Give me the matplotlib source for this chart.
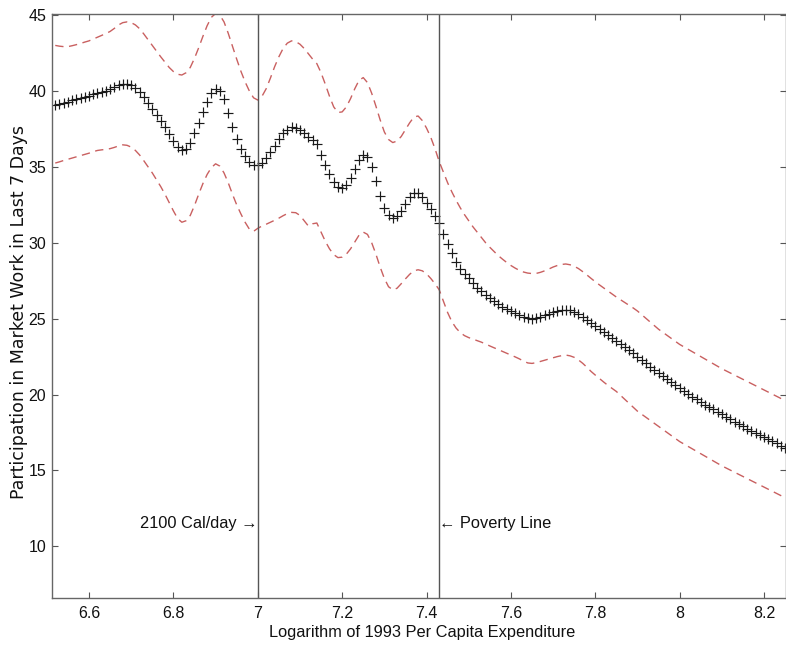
import numpy as np
import matplotlib
matplotlib.use("Agg")
import matplotlib.pyplot as plt

plt.rcParams['font.family'] = ['Liberation Sans', 'DejaVu Sans']

# x grid (log per-capita expenditure)
x_start, x_step, n_pts = 6.52, 0.01, 174
x_vals = np.round(x_start + x_step * np.arange(n_pts), 2)

# estimated participation (+ markers)
mid_vals = [
    39.10, 39.15, 39.22, 39.30, 39.38, 39.45, 39.53, 39.62, 39.70, 39.78,
    39.86, 39.94, 40.02, 40.12, 40.25, 40.40, 40.48, 40.48, 40.38, 40.20,
    39.95, 39.60, 39.20, 38.80, 38.40, 38.00, 37.60, 37.15, 36.70, 36.30,
    36.10, 36.20, 36.60, 37.20, 37.90, 38.60, 39.30, 39.85, 40.10, 40.00,
    39.45, 38.55, 37.60, 36.85, 36.20, 35.70, 35.30, 35.12, 35.10, 35.25,
    35.55, 35.95, 36.40, 36.85, 37.20, 37.45, 37.60, 37.58, 37.45, 37.20,
    36.95, 36.75, 36.50, 35.80, 35.10, 34.50, 34.00, 33.70, 33.60, 33.80,
    34.25, 34.85, 35.45, 35.80, 35.65, 35.00, 34.05, 33.10, 32.30, 31.80,
    31.60, 31.75, 32.10, 32.55, 33.00, 33.28, 33.25, 33.00, 32.65, 32.20,
    31.75, 31.30, 30.60, 29.90, 29.30, 28.75, 28.30, 27.95, 27.65, 27.35,
    27.05, 26.80, 26.55, 26.35, 26.15, 25.95, 25.78, 25.62, 25.50, 25.38,
    25.25, 25.12, 25.04, 25.00, 25.04, 25.12, 25.22, 25.33, 25.42, 25.50,
    25.56, 25.58, 25.55, 25.45, 25.30, 25.12, 24.92, 24.72, 24.52, 24.32,
    24.12, 23.92, 23.72, 23.52, 23.32, 23.12, 22.92, 22.72, 22.50, 22.28,
    22.06, 21.84, 21.62, 21.40, 21.20, 21.00, 20.80, 20.60, 20.40, 20.22,
    20.04, 19.86, 19.68, 19.50, 19.34, 19.18, 19.02, 18.86, 18.70, 18.54,
    18.38, 18.22, 18.06, 17.90, 17.76, 17.62, 17.48, 17.34, 17.20, 17.06,
    16.92, 16.78, 16.64, 16.50,
]

# upper confidence band
upper_vals = [
    43.00, 42.95, 42.92, 42.92, 42.98, 43.05, 43.13, 43.22, 43.30, 43.42,
    43.54, 43.66, 43.78, 43.92, 44.12, 44.35, 44.50, 44.55, 44.50, 44.35,
    44.10, 43.75, 43.38, 43.00, 42.62, 42.25, 41.90, 41.55, 41.28, 41.10,
    41.05, 41.20, 41.55, 42.15, 42.85, 43.60, 44.30, 44.85, 45.10, 45.00,
    44.55, 43.80, 42.95, 42.10, 41.30, 40.60, 40.00, 39.55, 39.40, 39.65,
    40.15, 40.85, 41.60, 42.25, 42.80, 43.15, 43.30, 43.25, 43.08, 42.80,
    42.45, 42.10, 41.80, 41.20, 40.45, 39.65, 38.95, 38.58, 38.62, 38.95,
    39.50, 40.15, 40.70, 40.88, 40.55, 39.85, 39.00, 38.10, 37.30, 36.80,
    36.60, 36.70, 37.00, 37.45, 37.90, 38.28, 38.35, 38.05, 37.55, 36.95,
    36.20, 35.35, 34.65, 33.95, 33.35, 32.80, 32.30, 31.85, 31.45, 31.05,
    30.70, 30.35, 30.00, 29.70, 29.42, 29.15, 28.92, 28.70, 28.50, 28.33,
    28.18, 28.07, 28.00, 27.97, 27.98, 28.05, 28.15, 28.27, 28.40, 28.50,
    28.57, 28.60, 28.55, 28.45, 28.30, 28.10, 27.88, 27.65, 27.43, 27.22,
    27.02, 26.82, 26.62, 26.42, 26.24, 26.06, 25.88, 25.70, 25.50, 25.26,
    25.02, 24.78, 24.54, 24.30, 24.10, 23.90, 23.70, 23.50, 23.30, 23.14,
    22.98, 22.82, 22.66, 22.50, 22.34, 22.18, 22.02, 21.86, 21.70, 21.56,
    21.42, 21.28, 21.14, 21.00, 20.86, 20.72, 20.58, 20.44, 20.30, 20.16,
    20.02, 19.88, 19.74, 19.60,
]

# lower confidence band
lower_vals = [
    35.25, 35.33, 35.42, 35.50, 35.58, 35.66, 35.74, 35.82, 35.90, 36.00,
    36.08, 36.12, 36.15, 36.20, 36.28, 36.38, 36.45, 36.42, 36.30, 36.08,
    35.78, 35.40, 35.00, 34.60, 34.15, 33.70, 33.20, 32.65, 32.10, 31.60,
    31.35, 31.45, 31.80, 32.45, 33.20, 33.90, 34.50, 34.95, 35.20, 35.05,
    34.60, 33.95, 33.20, 32.50, 31.90, 31.35, 30.90, 30.75, 30.95, 31.10,
    31.22, 31.35, 31.48, 31.62, 31.78, 31.92, 32.00, 31.98, 31.80, 31.45,
    31.10, 31.25, 31.30, 30.70, 30.10, 29.60, 29.22, 29.02, 29.05, 29.25,
    29.60, 30.05, 30.50, 30.70, 30.55, 30.00, 29.25, 28.40, 27.65, 27.10,
    26.90, 27.00, 27.30, 27.62, 27.92, 28.15, 28.22, 28.15, 27.95, 27.65,
    27.30, 26.90, 26.15, 25.40, 24.80, 24.38, 24.08, 23.88, 23.75, 23.65,
    23.55, 23.45, 23.33, 23.20, 23.08, 22.96, 22.84, 22.72, 22.60, 22.48,
    22.35, 22.20, 22.08, 22.05, 22.10, 22.18, 22.26, 22.34, 22.42, 22.50,
    22.56, 22.60, 22.55, 22.45, 22.28, 22.06, 21.80, 21.52, 21.28, 21.05,
    20.82, 20.60, 20.40, 20.20, 19.94, 19.68, 19.42, 19.16, 18.90, 18.70,
    18.50, 18.30, 18.10, 17.90, 17.70, 17.50, 17.30, 17.10, 16.90, 16.74,
    16.58, 16.42, 16.26, 16.10, 15.94, 15.78, 15.62, 15.46, 15.30, 15.16,
    15.02, 14.88, 14.74, 14.60, 14.46, 14.32, 14.18, 14.04, 13.90, 13.76,
    13.62, 13.48, 13.34, 13.20,
]

x_ticks = [6.6, 6.8, 7.0, 7.2, 7.4, 7.6, 7.8, 8.0, 8.2]
x_tick_labels = ["6.6", "6.8", "7", "7.2", "7.4", "7.6", "7.8", "8", "8.2"]
y_ticks = [10, 15, 20, 25, 30, 35, 40, 45]

ref_lines = [7.0, 7.43]
ref_labels = ["2100 Cal/day \u2192", "\u2190 Poverty Line"]
ref_label_y = 11.5

fig = plt.figure(figsize=(7.86, 6.45), dpi=100)
ax = fig.add_axes([0.066, 0.073, 0.934, 0.906])

band_color = "#c96060"
ax.plot(x_vals, upper_vals, color=band_color, lw=1.0, dashes=(6, 4))
ax.plot(x_vals, lower_vals, color=band_color, lw=1.0, dashes=(6, 4))
ax.plot(x_vals, mid_vals, linestyle="none", marker="+", ms=7, mew=0.85,
        color="#1a1a1a")

for xv in ref_lines:
    ax.axvline(xv, color="#555555", lw=1.0)

ax.text(ref_lines[0], ref_label_y, ref_labels[0], ha="right", va="center",
        fontsize=11.8, color="#111111")
ax.text(ref_lines[1], ref_label_y, ref_labels[1], ha="left", va="center",
        fontsize=11.8, color="#111111")

ax.set_xlim(6.512, 8.252)
ax.set_ylim(6.6, 45.1)
ax.set_xticks(x_ticks)
ax.set_xticklabels(x_tick_labels)
ax.set_yticks(y_ticks)
ax.tick_params(direction="in", top=True, right=True, length=4, width=0.8,
               color="#555555", labelsize=11.5, labelcolor="#111111")
ax.tick_params(axis="y", pad=4)
ax.tick_params(axis="x", pad=6)
for s in ax.spines.values():
    s.set_color("#666666")
    s.set_linewidth(1.0)

ax.set_xlabel("Logarithm of 1993 Per Capita Expenditure", fontsize=11.8,
              color="#111111")
ax.xaxis.set_label_coords(0.504, -0.046)
ax.set_ylabel("Participation in Market Work in Last 7 Days", fontsize=12.5,
              color="#111111", family=["DejaVu Sans"])
ax.yaxis.set_label_coords(-0.033, 0.49)

fig.savefig("out.png", dpi=100)
